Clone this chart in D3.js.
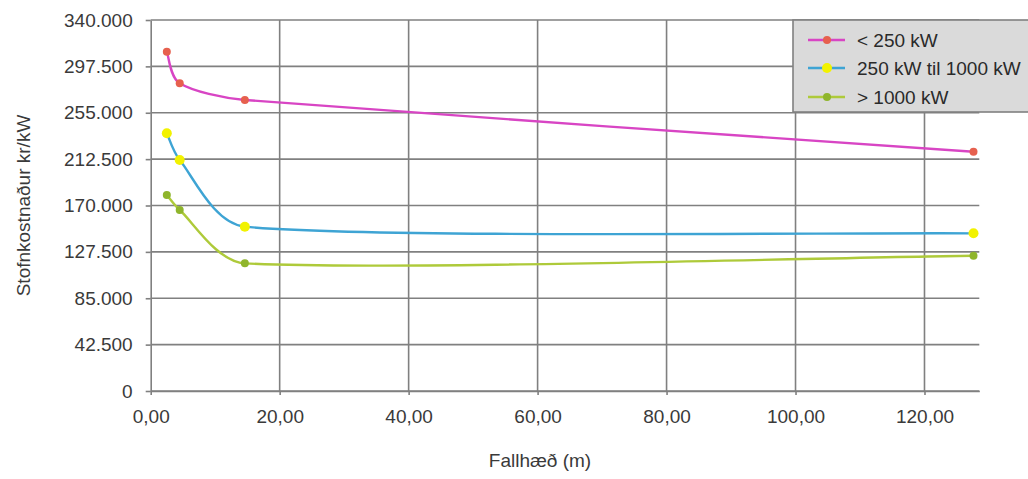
<!DOCTYPE html>
<html><head><meta charset="utf-8">
<script src="https://cdn.jsdelivr.net/npm/d3@7"></script>
<style>
html,body{margin:0;padding:0;background:#fff;}
svg text{font-family:"Liberation Sans",Arial,sans-serif;}
</style></head>
<body><svg id="c" width="1028" height="479"></svg>
<script>
const xValues = [2.5, 4.5, 14.6, 127.6];
const seriesNames = ["< 250 kW", "250 kW til 1000 kW", "> 1000 kW"];
const smallValues = [311000, 282000, 266700, 219300];
const midValues = [236200, 211700, 150600, 144500];
const largeValues = [179600, 165900, 117000, 124000];
const yTicks = [0, 42500, 85000, 127500, 170000, 212500, 255000, 297500, 340000];
const xTicks = [0, 20, 40, 60, 80, 100, 120];
const lineColors = ["#d845c4", "#3ea4d4", "#aeca3a"];
const markerColors = ["#e6604e", "#f2f200", "#8fb52c"];

// Excel-like smoothed curve: Catmull-Rom tangents, control arms clamped to 1/3 of adjacent segment
function excelSmooth(context) {
  let pts;
  return {
    areaStart() {}, areaEnd() {},
    lineStart() { pts = []; },
    point(px, py) { pts.push([+px, +py]); },
    lineEnd() {
      const n = pts.length;
      if (!n) return;
      context.moveTo(pts[0][0], pts[0][1]);
      if (n === 1) return;
      const dist = (a, b) => Math.hypot(b[0] - a[0], b[1] - a[1]);
      const tan = i => {
        const a = pts[Math.max(0, i - 1)], b = pts[Math.min(n - 1, i + 1)];
        return [(b[0] - a[0]) / 6, (b[1] - a[1]) / 6];
      };
      const arm = (i, dir, segLen) => {
        const t = tan(i);
        const L = Math.hypot(t[0], t[1]) || 1;
        const s = Math.min(1, (segLen / 3) / L);
        return [pts[i][0] + dir * t[0] * s, pts[i][1] + dir * t[1] * s];
      };
      for (let i = 0; i < n - 1; i++) {
        const d = dist(pts[i], pts[i + 1]);
        const c1 = arm(i, 1, d), c2 = arm(i + 1, -1, d);
        context.bezierCurveTo(c1[0], c1[1], c2[0], c2[1], pts[i + 1][0], pts[i + 1][1]);
      }
    }
  };
}

const svg = d3.select("#c");
const m = {left: 150.7, right: 979.3, top: 20, bottom: 391};
const loc = d3.formatLocale({decimal: ",", thousands: ".", grouping: [3], currency: ["", ""]});
const x = d3.scaleLinear().domain([0, 128.5]).range([m.left, m.right]);
const y = d3.scaleLinear().domain([0, 340000]).range([m.bottom, m.top]);

// gridlines
svg.append("g").selectAll("line").data(yTicks).join("line")
  .attr("x1", m.left).attr("x2", m.right)
  .attr("y1", d => y(d)).attr("y2", d => y(d))
  .attr("stroke", "#808080").attr("stroke-width", 1.6);
svg.append("g").selectAll("line").data(xTicks.filter(d => d > 0)).join("line")
  .attr("x1", d => x(d)).attr("x2", d => x(d))
  .attr("y1", m.top).attr("y2", m.bottom)
  .attr("stroke", "#808080").attr("stroke-width", 1.6);

// axes
const yAxis = d3.axisLeft(y).tickValues(yTicks).tickSize(5).tickSizeOuter(0).tickPadding(13)
  .tickFormat(loc.format(",.0f"));
const gy = svg.append("g").attr("transform", `translate(${m.left},0)`).call(yAxis);
const xAxis = d3.axisBottom(x).tickValues(xTicks).tickSize(4).tickSizeOuter(0).tickPadding(15)
  .tickFormat(loc.format(",.2f"));
const gx = svg.append("g").attr("transform", `translate(0,${m.bottom})`).call(xAxis);
[gx, gy].forEach(g => {
  g.select(".domain").attr("stroke", "#808080").attr("stroke-width", 1.6);
  g.selectAll(".tick line").attr("stroke", "#808080").attr("stroke-width", 1.6);
  g.selectAll(".tick text").attr("fill", "#3a3a3a").style("font-size", "19px");
});

// series
const allSeries = [smallValues, midValues, largeValues];
const line = d3.line().x((d, i) => x(xValues[i])).y(d => y(d)).curve(excelSmooth);
allSeries.forEach((vals, s) => {
  svg.append("path").datum(vals).attr("d", line)
    .attr("fill", "none").attr("stroke", lineColors[s]).attr("stroke-width", 2.4);
  svg.append("g").selectAll("circle").data(vals).join("circle")
    .attr("cx", (d, i) => x(xValues[i])).attr("cy", d => y(d))
    .attr("r", s === 1 ? 5 : 4).attr("fill", markerColors[s]);
});

// axis titles
svg.append("text").attr("x", 540).attr("y", 467).attr("text-anchor", "middle")
  .attr("fill", "#3a3a3a").style("font-size", "19px").text("Fallhæð (m)");
svg.append("text").attr("transform", `translate(23,${(m.top + m.bottom) / 2}) rotate(-90)`)
  .attr("text-anchor", "middle").attr("dy", "0.35em")
  .attr("fill", "#3a3a3a").style("font-size", "19px").text("Stofnkostnaður kr/kW");

// legend
const lg = svg.append("g");
lg.append("rect").attr("x", 793).attr("y", 20).attr("width", 240).attr("height", 92)
  .attr("fill", "#dadada").attr("stroke", "#808080").attr("stroke-width", 1.6);
const rowY = [40, 68, 97];
seriesNames.forEach((name, s) => {
  lg.append("line").attr("x1", 808).attr("x2", 845).attr("y1", rowY[s]).attr("y2", rowY[s])
    .attr("stroke", lineColors[s]).attr("stroke-width", 2.4);
  lg.append("circle").attr("cx", 827).attr("cy", rowY[s]).attr("r", s === 1 ? 5 : 4).attr("fill", markerColors[s]);
  lg.append("text").attr("x", 857).attr("y", rowY[s]).attr("dy", "0.35em")
    .attr("fill", "#2a2a2a").style("font-size", "19px").text(name);
});
</script></body></html>
